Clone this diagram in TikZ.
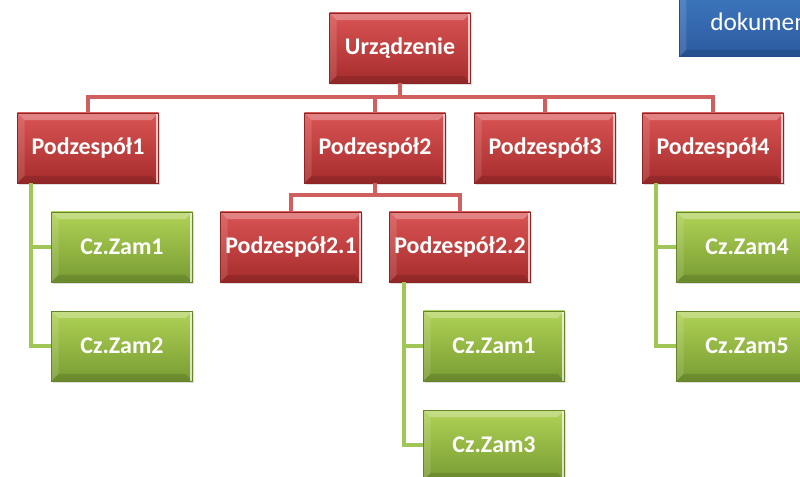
\documentclass[tikz,border=0pt]{standalone}
\usepackage{fontspec}
\setmainfont{Carlito}
\usepackage{tikz}
\usetikzlibrary{positioning}
\usetikzlibrary{shadows}
\definecolor{redtop}{RGB}{218,84,84}
\definecolor{redbot}{RGB}{166,44,44}
\definecolor{greentop}{RGB}{176,210,86}
\definecolor{greenbot}{RGB}{120,156,50}
\definecolor{bluetop}{RGB}{70,134,204}
\definecolor{bluebot}{RGB}{44,90,160}
\definecolor{redwire}{RGB}{208,96,96}
\definecolor{greenwire}{RGB}{160,198,88}
\tikzset{
% bevelled look of the boxes
  bevel/.style={path picture={
    \fill[white, opacity=0.28] (path picture bounding box.north west) -- (path picture bounding box.north east)
      -- ([xshift=-0.18cm, yshift=-0.18cm]path picture bounding box.north east)
      -- ([xshift=0.18cm, yshift=-0.18cm]path picture bounding box.north west) -- cycle;
    \fill[white, opacity=0.12] (path picture bounding box.north west) -- ([xshift=0.18cm, yshift=-0.18cm]path picture bounding box.north west)
      -- ([xshift=0.18cm, yshift=0.18cm]path picture bounding box.south west) -- (path picture bounding box.south west) -- cycle;
    \fill[black, opacity=0.12] (path picture bounding box.south west) -- (path picture bounding box.south east)
      -- ([xshift=-0.18cm, yshift=0.18cm]path picture bounding box.south east)
      -- ([xshift=0.18cm, yshift=0.18cm]path picture bounding box.south west) -- cycle;
    \fill[white, opacity=0.7] ([xshift=-0.06cm]path picture bounding box.north east) rectangle (path picture bounding box.south east);
  }},
  orgbox/.style={rectangle, draw=#1bot!85!black,
    minimum width = 3.525cm,
    minimum height = 1.75cm,
    top color=#1top, bottom color=#1bot,
    text=white, font=\fontsize{17}{20}\selectfont\bfseries,
    bevel, drop shadow={opacity=0.25, shadow xshift=0.04cm, shadow yshift=-0.04cm}},
  redwire/.style={draw=redwire, line width=3.5pt},
  greenwire/.style={draw=greenwire, line width=3pt}
}

\begin{document}
\begin{tikzpicture}[x=0.025cm, y=-0.025cm]
  \clip (0,0) rectangle (800,477);

  % top of the tree
  \node[orgbox=red] (dev) at (400,48) {Urządzenie};

  \node[orgbox=red] (sub1) at (88,148) {Podzespół1};
  \node[orgbox=red] (sub2) at (375,148) {Podzespół2};
  \node[orgbox=red] (sub3) at (545,148) {Podzespół3};
  \node[orgbox=red] (sub4) at (713,148) {Podzespół4};

  \node[orgbox=red] (sub21) at (291,247) {Podzespół2.1};
  \node[orgbox=red] (sub22) at (460,247) {Podzespół2.2};

  % parts
  \node[orgbox=green] (part11) at (122,247) {Cz.Zam1};
  \node[orgbox=green] (part12) at ([yshift=-2.475cm]part11.center) {Cz.Zam2};
  \node[orgbox=green] (part221) at (494,346) {Cz.Zam1};
  \node[orgbox=green] (part223) at ([yshift=-2.475cm]part221.center) {Cz.Zam3};
  \node[orgbox=green] (part44) at (747,247) {Cz.Zam4};
  \node[orgbox=green] (part45) at ([yshift=-2.475cm]part44.center) {Cz.Zam5};

  \node[rectangle, draw=bluebot!85!black,
    anchor=south west,
    align=center,
    inner xsep=0.775cm, inner ysep=0.55cm,
    top color=bluetop, bottom color=bluebot,
    text=white, font=\fontsize{18}{22}\selectfont,
    bevel] (info) at (679,57) {Stan części\\dokumentacji};

  % red connectors
  \coordinate (bus1) at (400,97);
  \coordinate (bus2) at (375,195);
  \draw[redwire] (dev.south) -- (bus1);
  \draw[redwire] (sub1.north) -- (sub1.north |- bus1) -- (sub4.north |- bus1) -- (sub4.north);
  \draw[redwire] (sub2.north) -- (sub2.north |- bus1);
  \draw[redwire] (sub3.north) -- (sub3.north |- bus1);
  \draw[redwire] (sub2.south) -- (bus2);
  \draw[redwire] (sub21.north) -- (sub21.north |- bus2) -- (sub22.north |- bus2) -- (sub22.north);

  % green connectors
  \draw[greenwire] ([xshift=0.35cm]sub1.south west) |- (part11.west);
  \draw[greenwire] ([xshift=0.35cm]sub1.south west) |- (part12.west);
  \draw[greenwire] ([xshift=0.375cm]sub22.south west) |- (part221.west);
  \draw[greenwire] ([xshift=0.375cm]sub22.south west) |- (part223.west);
  \draw[greenwire] ([xshift=0.35cm]sub4.south west) |- (part44.west);
  \draw[greenwire] ([xshift=0.35cm]sub4.south west) |- (part45.west);
\end{tikzpicture}
\end{document}
